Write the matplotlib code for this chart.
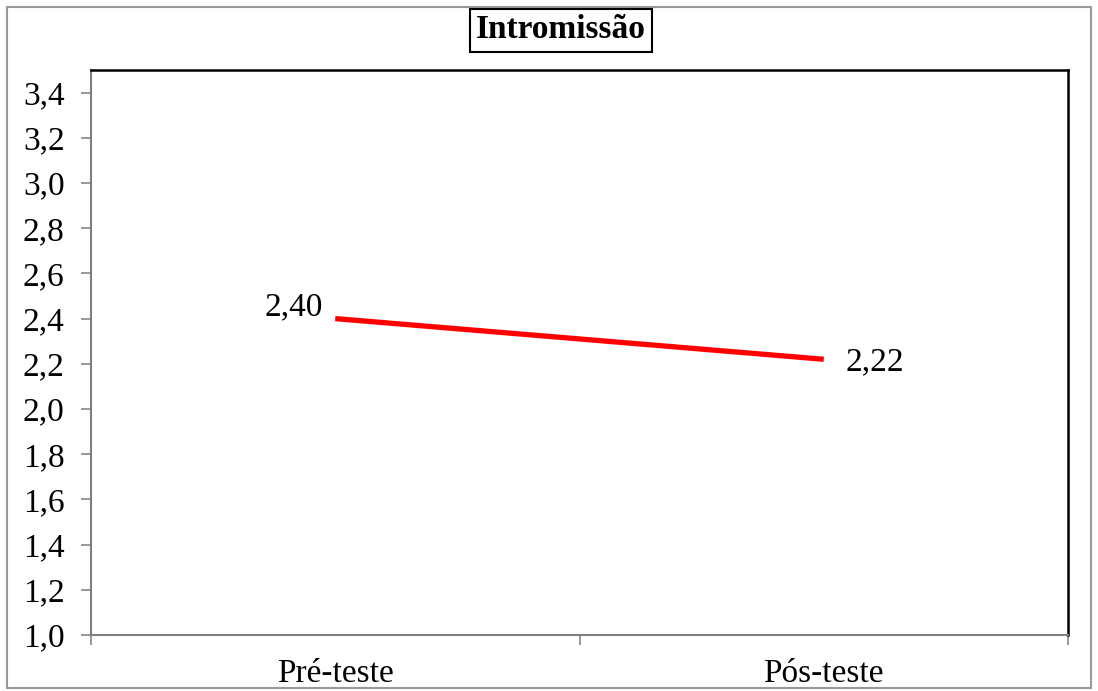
import matplotlib.pyplot as plt
from matplotlib.patches import Rectangle

plt.rcParams['font.family'] = ['Liberation Serif', 'DejaVu Serif']

categories = ['Pré-teste', 'Pós-teste']
values = [2.40, 2.22]
value_labels = ['2,40', '2,22']
yticks = [1.0, 1.2, 1.4, 1.6, 1.8, 2.0, 2.2, 2.4, 2.6, 2.8, 3.0, 3.2, 3.4]

fig = plt.figure(figsize=(10.98, 6.91), dpi=100)
ax = fig.add_axes([91/1098, 56/691, 977/1098, 565/691])

x = [0.5, 1.5]
ax.plot(x, values, color='#ff0000', lw=3.8, solid_capstyle='butt')
ax.text(x[0] - 0.025, values[0] + 0.05, value_labels[0], ha='right', va='center', fontsize=24)
ax.text(x[1] + 0.045, values[1] - 0.01, value_labels[1], ha='left', va='center', fontsize=24)

ax.set_xlim(0, 2)
ax.set_ylim(1.0, 3.5)
ax.set_yticks(yticks)
ax.set_yticklabels([f'{v:.1f}'.replace('.', ',') for v in yticks], fontsize=24)
ax.set_xticks([0, 1, 2])
ax.set_xticklabels([])
ax.set_xticks(x, minor=True)
ax.set_xticklabels(categories, minor=True, fontsize=24)
ax.tick_params(axis='x', which='minor', length=0, pad=17)
ax.tick_params(axis='both', which='major', direction='out', length=7, color='#888888', width=1.2)
ax.tick_params(axis='y', pad=12)

for s in ['left', 'bottom']:
    ax.spines[s].set_color('#808080')
    ax.spines[s].set_linewidth(1.5)
for s in ['top', 'right']:
    ax.spines[s].set_color('black')
    ax.spines[s].set_linewidth(1.8)

fig.text(561/1098, 1 - 30/691, 'Intromissão', ha='center', va='center', fontsize=24, fontweight='bold',
         bbox=dict(boxstyle='square,pad=0.18', fc='white', ec='black', lw=1.5))

fig.patches.append(Rectangle((7/1098, 3/691), 1084/1098, 681/691, transform=fig.transFigure,
                             fill=False, ec='#999999', lw=1.5))

fig.savefig('out.png', dpi=100)
